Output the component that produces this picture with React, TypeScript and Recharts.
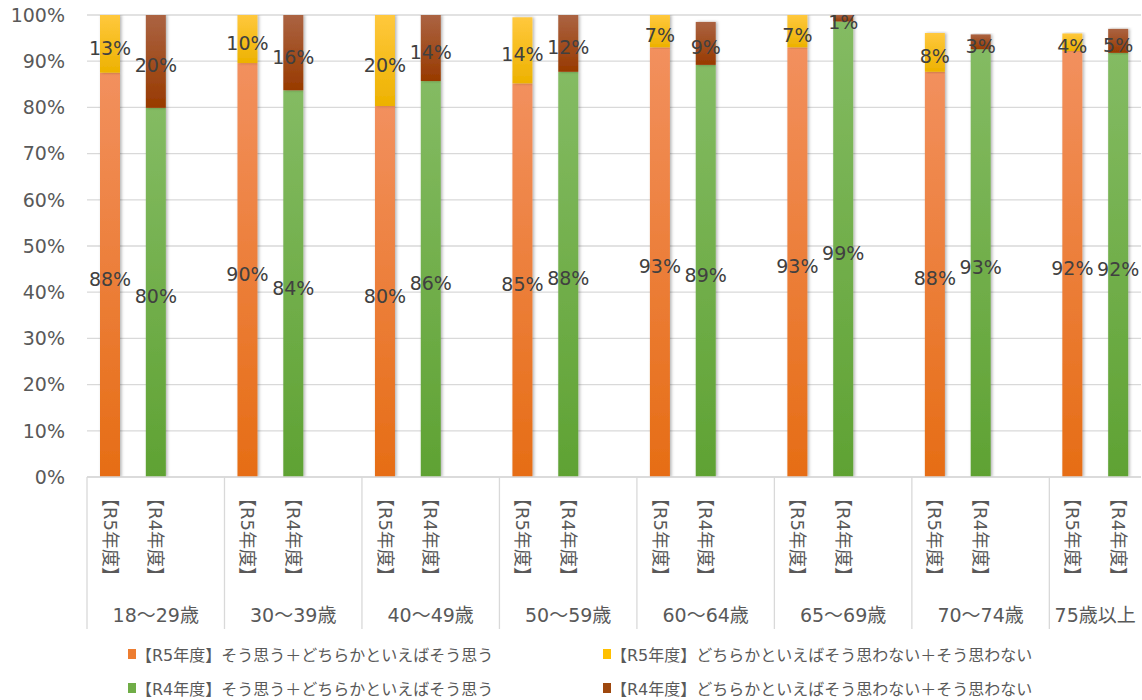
import React from "react";
import { BarChart, Bar, XAxis, YAxis, CartesianGrid, LabelList } from "recharts";

// 年代別の集計（割合）
const groups = ["18～29歳", "30～39歳", "40～49歳", "50～59歳", "60～64歳", "65～69歳", "70～74歳", "75歳以上"];
const r5Agree = [0.875, 0.896, 0.803, 0.852, 0.93, 0.93, 0.877, 0.922];
const r5Disagree = [0.13, 0.104, 0.197, 0.143, 0.07, 0.07, 0.084, 0.038];
const r4Agree = [0.799, 0.837, 0.857, 0.877, 0.892, 0.986, 0.926, 0.918];
const r4Disagree = [0.201, 0.163, 0.143, 0.123, 0.093, 0.014, 0.032, 0.052];
const yTicks = [0, 0.1, 0.2, 0.3, 0.4, 0.5, 0.6, 0.7, 0.8, 0.9, 1];

const legendItems = [
  { label: "【R5年度】そう思う＋どちらかといえばそう思う", color: "#ED7D31" },
  { label: "【R5年度】どちらかといえばそう思わない＋そう思わない", color: "#FFC000" },
  { label: "【R4年度】そう思う＋どちらかといえばそう思う", color: "#70AD47" },
  { label: "【R4年度】どちらかといえばそう思わない＋そう思わない", color: "#9E480E" },
];

const FONT = "'DejaVu Sans', 'Noto Sans CJK JP', sans-serif";
const CHART_W = 1142;
const CHART_H = 700;
const MARGIN = { top: 15, right: 1, left: 0, bottom: 0 };
const Y_W = 87;
const X_H = 223;
const PLOT_W = CHART_W - MARGIN.left - MARGIN.right - Y_W;

type Row = {
  id: string;
  group: number;
  period: string;
  first: boolean;
  slots: number;
  r5a?: number;
  r5d?: number;
  r4a?: number;
  r4d?: number;
};

// 各年代: R5, R4, 空き枠（最後の年代は空き枠なし）
const rows: Row[] = [];
groups.forEach((g, i) => {
  const last = i === groups.length - 1;
  const slots = last ? 2 : 3;
  rows.push({ id: `${i}-R5`, group: i, period: "R5", first: true, slots, r5a: r5Agree[i], r5d: r5Disagree[i] });
  rows.push({ id: `${i}-R4`, group: i, period: "R4", first: false, slots, r4a: r4Agree[i], r4d: r4Disagree[i] });
  if (!last) rows.push({ id: `${i}-gap`, group: i, period: "", first: false, slots });
});
const BAND = PLOT_W / rows.length;

const CategoryTick = (props: any) => {
  const { x, y, payload } = props;
  const row = rows.find((r) => r.id === payload.value);
  if (!row) return null;
  const left = x - BAND / 2;
  return (
    <g fontFamily={FONT} fill="#595959">
      {row.first && <line x1={left} x2={left} y1={y} y2={y + 152} stroke="#d9d9d9" strokeWidth={1.3} />}
      {row.period && (
        <text transform={`translate(${x},${y + 12}) rotate(90)`} dy="0.35em" fontSize={18} fill="#595959">
          【{row.period}年度】
        </text>
      )}
      {row.first && (
        <text x={left + (row.slots * BAND) / 2} y={y + 138} dy="0.35em" textAnchor="middle" fontSize={19} fill="#595959">
          {groups[row.group]}
        </text>
      )}
    </g>
  );
};

const ValueLabel = (props: any) => {
  const { x, y, width, height, value } = props;
  if (typeof value !== "number") return null;
  return (
    <text
      x={x + width / 2}
      y={y + height / 2 + 4}
      textAnchor="middle"
      dominantBaseline="central"
      fontSize={19}
      fontFamily={FONT}
      fill="#404040"
    >
      {`${Math.round(value * 100)}%`}
    </text>
  );
};

const BarShape = (props: any) => {
  const { x, y, width, height, fill } = props;
  if (!height || height <= 0) return null;
  return <rect x={x} y={y} width={width} height={height} fill={fill} filter="url(#barShadow)" />;
};

export default function App() {
  return (
    <div
      style={{
        position: "absolute",
        left: 0,
        top: 0,
        width: CHART_W,
        height: CHART_H,
        background: "#fff",
        fontFamily: FONT,
      }}
    >
      <BarChart width={CHART_W} height={CHART_H} data={rows} margin={MARGIN} barSize={20}>
        <defs>
          <linearGradient id="gOrange" x1="0" y1="0" x2="0" y2="1">
            <stop offset="0%" stopColor="#F2905E" />
            <stop offset="100%" stopColor="#E66D15" />
          </linearGradient>
          <linearGradient id="gYellow" x1="0" y1="0" x2="0" y2="1">
            <stop offset="0%" stopColor="#FFC83D" />
            <stop offset="100%" stopColor="#EDB200" />
          </linearGradient>
          <linearGradient id="gGreen" x1="0" y1="0" x2="0" y2="1">
            <stop offset="0%" stopColor="#84BB63" />
            <stop offset="100%" stopColor="#5FA233" />
          </linearGradient>
          <linearGradient id="gRed" x1="0" y1="0" x2="0" y2="1">
            <stop offset="0%" stopColor="#AB6342" />
            <stop offset="100%" stopColor="#983A00" />
          </linearGradient>
          <filter id="barShadow" x="-50%" y="-5%" width="200%" height="110%">
            <feDropShadow dx="1.5" dy="0" stdDeviation="1.5" floodColor="#000" floodOpacity="0.3" />
          </filter>
        </defs>
        <CartesianGrid vertical={false} stroke="#d9d9d9" strokeWidth={1.3} />
        <XAxis
          dataKey="id"
          interval={0}
          height={X_H}
          tickLine={false}
          tickSize={0}
          tickMargin={0}
          axisLine={{ stroke: "#d9d9d9", strokeWidth: 1.3 }}
          tick={(p: any) => <CategoryTick {...p} />}
        />
        <YAxis
          width={Y_W}
          domain={[0, 1]}
          ticks={yTicks}
          allowDataOverflow
          axisLine={false}
          tickLine={false}
          tickSize={0}
          tickMargin={22}
          tickFormatter={(v: number) => `${Math.round(v * 100)}%`}
          tick={{ fontSize: 19, fill: "#595959", fontFamily: FONT }}
        />
        <Bar dataKey="r5a" stackId="s" fill="url(#gOrange)" shape={BarShape} isAnimationActive={false}>
          <LabelList dataKey="r5a" content={ValueLabel} />
        </Bar>
        <Bar dataKey="r5d" stackId="s" fill="url(#gYellow)" shape={BarShape} isAnimationActive={false}>
          <LabelList dataKey="r5d" content={ValueLabel} />
        </Bar>
        <Bar dataKey="r4a" stackId="s" fill="url(#gGreen)" shape={BarShape} isAnimationActive={false}>
          <LabelList dataKey="r4a" content={ValueLabel} />
        </Bar>
        <Bar dataKey="r4d" stackId="s" fill="url(#gRed)" shape={BarShape} isAnimationActive={false}>
          <LabelList dataKey="r4d" content={ValueLabel} />
        </Bar>
      </BarChart>
      {legendItems.map((item, i) => (
        <div
          key={item.label}
          style={{
            position: "absolute",
            left: i % 2 === 0 ? 128 : 603,
            top: (i < 2 ? 654 : 688) - 11,
            height: 22,
            display: "flex",
            alignItems: "center",
            whiteSpace: "nowrap",
            fontSize: 16,
            color: "#595959",
          }}
        >
          <span style={{ display: "inline-block", width: 8, height: 10, background: item.color }} />
          <span>{item.label}</span>
        </div>
      ))}
    </div>
  );
}
